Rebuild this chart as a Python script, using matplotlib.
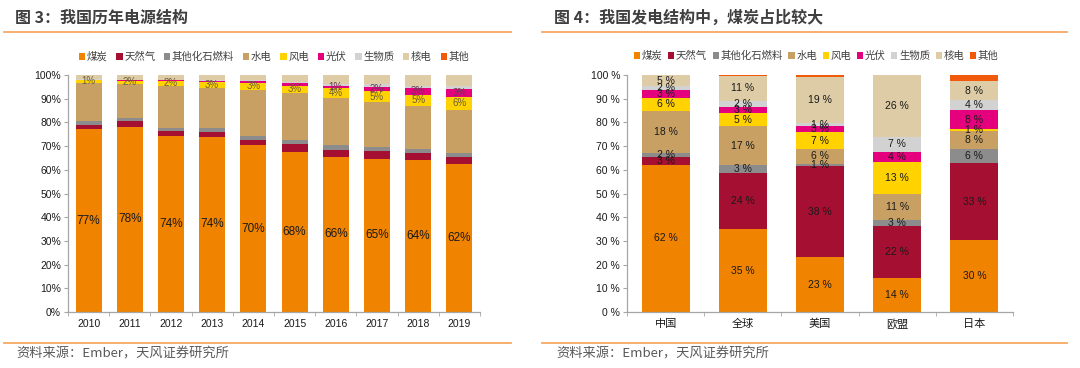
import matplotlib
matplotlib.use("Agg")
import matplotlib.pyplot as plt
from matplotlib.patches import Patch
from matplotlib.lines import Line2D
import numpy as np

plt.rcParams['font.family'] = ['Noto Sans CJK SC', 'DejaVu Sans']

# ---------------- data ----------------
series_names = ['煤炭', '天然气', '其他化石燃料', '水电', '风电', '光伏', '生物质', '核电', '其他']
colors = ['#F08300', '#A50F32', '#8C8C8C', '#C8A064', '#FFD200', '#E5007E', '#D2D2D2', '#DDCCA6', '#F05A0A']

years = ['2010', '2011', '2012', '2013', '2014', '2015', '2016', '2017', '2018', '2019']
cn_coal    = [77.2, 78.2, 74.4, 74.0, 70.4, 67.7, 65.6, 64.6, 64.2, 62.4]
cn_gas     = [1.7, 2.4, 2.1, 2.1, 2.2, 3.1, 2.8, 3.2, 2.7, 2.8]
cn_fossil  = [1.7, 1.1, 1.3, 1.7, 1.7, 1.8, 2.1, 1.7, 1.9, 1.9]
cn_hydro   = [16.2, 14.4, 17.6, 16.7, 19.4, 19.7, 19.7, 19.0, 18.1, 18.2]
cn_wind    = [1.1, 1.5, 2.2, 2.6, 3.1, 3.2, 4.2, 4.8, 4.8, 5.6]
cn_solar   = [0.0, 0.1, 0.1, 0.3, 0.6, 1.0, 1.1, 1.8, 2.8, 3.1]
cn_bio     = [0.3, 0.3, 0.3, 0.5, 0.3, 0.5, 0.8, 1.0, 1.0, 1.2]
cn_nuclear = [1.8, 2.0, 2.0, 2.1, 2.3, 3.0, 3.7, 3.9, 4.5, 4.8]
cn_other   = [0.0, 0.0, 0.0, 0.0, 0.0, 0.0, 0.0, 0.0, 0.0, 0.0]
solar_label_years = ['2016', '2017', '2018', '2019']

regions = ['中国', '全球', '美国', '欧盟', '日本']
rg_coal    = [62.2, 35.0, 23.2, 14.3, 30.2]
rg_gas     = [3.1, 23.6, 38.2, 21.8, 32.6]
rg_fossil  = [1.8, 3.3, 1.1, 2.8, 6.0]
rg_hydro   = [17.7, 16.6, 6.3, 11.0, 7.6]
rg_wind    = [5.6, 5.3, 7.0, 13.3, 0.7]
rg_solar   = [3.1, 2.9, 2.7, 4.2, 8.2]
rg_bio     = [1.7, 2.4, 1.1, 6.6, 4.0]
rg_nuclear = [4.8, 10.6, 19.4, 26.0, 8.2]
rg_other   = [0.0, 0.3, 1.0, 0.0, 2.5]

left_series = [cn_coal, cn_gas, cn_fossil, cn_hydro, cn_wind, cn_solar, cn_bio, cn_nuclear, cn_other]
right_series = [rg_coal, rg_gas, rg_fossil, rg_hydro, rg_wind, rg_solar, rg_bio, rg_nuclear, rg_other]

# ---------------- figure ----------------
W, H = 1080, 368
fig = plt.figure(figsize=(W / 100, H / 100), dpi=100)
fig.patch.set_facecolor('white')

def fx(px):
    return px / W

def fy(py):
    return 1 - py / H

line_col = '#F6A862'
for x0, x1 in [(4, 511), (542, 1067)]:
    fig.add_artist(Line2D([fx(x0), fx(x1)], [fy(32), fy(32)], color=line_col, lw=1.3))
    fig.add_artist(Line2D([fx(x0), fx(x1)], [fy(343), fy(343)], color=line_col, lw=1.3))

fig.text(fx(15), fy(18), '图 3：我国历年电源结构', fontsize=11.5, fontweight='bold',
         color='#3F3F3F', va='center', ha='left')
fig.text(fx(554), fy(18), '图 4：我国发电结构中，煤炭占比较大', fontsize=11.5, fontweight='bold',
         color='#3F3F3F', va='center', ha='left')
fig.text(fx(16), fy(354), '资料来源：Ember，天风证券研究所', fontsize=9.5,
         color='#595959', va='center', ha='left')
fig.text(fx(556), fy(354), '资料来源：Ember，天风证券研究所', fontsize=9.5,
         color='#595959', va='center', ha='left')

axis_col = '#A6A6A6'
tick_font = ['Liberation Sans', 'DejaVu Sans']


def style_axes(ax, n, fmt):
    ax.set_xlim(-0.5, n - 0.5)
    ax.set_ylim(0, 100)
    for s in ['top', 'right']:
        ax.spines[s].set_visible(False)
    for s in ['left', 'bottom']:
        ax.spines[s].set_color(axis_col)
        ax.spines[s].set_linewidth(0.9)
    ax.set_yticks(np.arange(0, 101, 10))
    ax.set_yticklabels([fmt.format(v) for v in range(0, 101, 10)], fontsize=7.5,
                       family=tick_font, color='#1a1a1a')
    ax.tick_params(axis='y', length=3, color=axis_col, pad=2)
    ax.set_xticks(np.arange(-0.5, n, 1.0), minor=True)
    ax.tick_params(axis='x', which='minor', length=3, color=axis_col)
    ax.tick_params(axis='x', which='major', length=0, pad=5)


# ---------------- left chart ----------------
axL = fig.add_axes([fx(68), fy(312), fx(480 - 68), (312 - 75) / H])
xL = np.arange(len(years))
bottom = np.zeros(len(years))
for vals, col in zip(left_series, colors):
    v = np.array(vals)
    axL.bar(xL, v, bottom=bottom, width=0.63, color=col, linewidth=0)
    bottom += v
style_axes(axL, len(years), '{}%')
axL.set_xticks(xL)
axL.set_xticklabels(years, fontsize=7.5, family=tick_font, color='#1a1a1a')

for i in range(len(years)):
    axL.text(xL[i], cn_coal[i] / 2, f'{round(cn_coal[i])}%', ha='center', va='center',
             fontsize=8.5, family=tick_font, color='#1a1a1a')
    base_w = cn_coal[i] + cn_gas[i] + cn_fossil[i] + cn_hydro[i]
    axL.text(xL[i], base_w + cn_wind[i] / 2, f'{round(cn_wind[i])}%', ha='center', va='center',
             fontsize=7, family=tick_font, color='#6B5F3A')
    if years[i] in solar_label_years:
        base_s = base_w + cn_wind[i]
        axL.text(xL[i], base_s + cn_solar[i] / 2, f'{round(cn_solar[i])}%', ha='center',
                 va='center', fontsize=7, family=tick_font, color='#6B3A50')

handles = [Patch(facecolor=c, edgecolor='none') for c in colors]
axL.legend(handles, series_names, loc='center', bbox_to_anchor=(0.5, (312 - 57) / (312 - 75)),
           ncol=9, frameon=False, fontsize=7.5, handlelength=0.6, handleheight=0.6,
           handletextpad=0.15, columnspacing=0.85, labelcolor='#404040')

# ---------------- right chart ----------------
axR = fig.add_axes([fx(627), fy(312), fx(1013 - 627), (312 - 75) / H])
xR = np.arange(len(regions))
bottom = np.zeros(len(regions))
for k, (vals, col) in enumerate(zip(right_series, colors)):
    v = np.array(vals)
    axR.bar(xR, v, bottom=bottom, width=0.62, color=col, linewidth=0)
    if k < 8:
        for i in range(len(regions)):
            if v[i] >= 0.5:
                axR.text(xR[i], bottom[i] + v[i] / 2, f'{round(v[i])} %', ha='center',
                         va='center', fontsize=7.5, family=tick_font, color='#1a1a1a')
    bottom += v
style_axes(axR, len(regions), '{} %')
axR.set_xticks(xR)
axR.set_xticklabels(regions, fontsize=8, color='#1a1a1a')

axR.legend(handles, series_names, loc='center', bbox_to_anchor=(0.5 - 0.01, (312 - 56) / (312 - 75)),
           ncol=9, frameon=False, fontsize=7.5, handlelength=0.6, handleheight=0.6,
           handletextpad=0.15, columnspacing=0.55, labelcolor='#404040')

fig.savefig('out.png', dpi=100, facecolor='white')
